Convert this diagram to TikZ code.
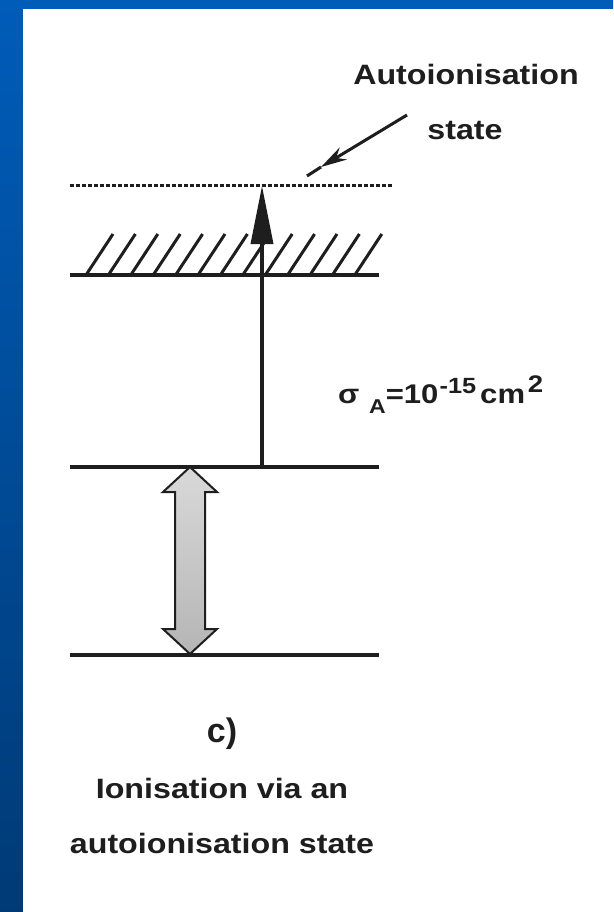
\documentclass[tikz,border=0pt]{standalone}
\usepackage{fontspec}
\setmainfont{Liberation Sans}
\usetikzlibrary{arrows.meta,calc}
\newcommand\xwide[1]{\scalebox{1.15}[1]{#1}}
\definecolor{bluetop}{HTML}{005CB9}
\definecolor{bluebot}{HTML}{003A76}
\definecolor{ink}{HTML}{1E1E1E}
\tikzset{
  level/.style={draw=ink, line width=4pt},
  dotlevel/.style={draw=ink, line width=3pt, dash pattern=on 3.5pt off 2.5pt},
  hatch/.style={draw=ink, line width=3pt},
  lbl/.style={text=ink, inner sep=0pt, font=\fontsize{28}{30}\selectfont\bfseries},
}
\begin{document}
\begin{tikzpicture}[x=1pt,y=-1pt]
\useasboundingbox (0,0) rectangle (613,912);
% background
\shade[top color=bluetop, bottom color=bluebot] (0,0) rectangle (613,912);
\fill[white] (23,9) rectangle (614,913);

% level coordinates
\coordinate (aiL) at (70,186);  \coordinate (aiR) at (393,186);
\coordinate (hL)  at (70,275);  \coordinate (hR)  at (379,275);
\coordinate (mL)  at (70,467);  \coordinate (mR)  at (379,467);
\coordinate (gL)  at (70,655);  \coordinate (gR)  at (379,655);
\coordinate (exc) at (262,467); \coordinate (auto) at (262,186);

% levels
\draw[dotlevel] (aiL) -- (aiR);
\draw[level] (hL) -- (hR);
\draw[level] (mL) -- (mR);
\draw[level] (gL) -- (gR);

% hatching above ionisation limit
\foreach \k in {0,...,12}{
  \draw[hatch] ($(hL)+(16+22.4*\k,0)$) -- ++(27,-41);
}

% excitation arrow
\draw[draw=ink, line width=3.5pt, -{Triangle[length=58pt,width=22pt]}] (exc) -- (auto);

% pointer arrow to autoionisation state
\coordinate (ptS) at (407,115);
\coordinate (ptM) at (321,167);
\coordinate (ptE) at (307,176);
\draw[draw=ink, line width=3pt, -{Stealth[length=26pt,width=14pt]}] (ptS) -- (ptM);
\draw[draw=ink, line width=3pt] (ptM) -- (ptE);

% grey double arrow
\coordinate (dT) at (190,467);
\coordinate (dB) at (190,654);
\path[draw=ink, line width=2pt, top color=gray!30, bottom color=gray!58]
  (dT) -- ++(27,25) -- ++(-12,0) |- ($(dB)+(15,-25)$) -- ++(12,0) -- (dB)
  -- ++(-27,-25) -- ++(12,0) |- ($(dT)+(-15,25)$) -- ++(-12,0) -- cycle;

% labels
\node[lbl, anchor=base] (tAuto) at (466,85) {\xwide{Autoionisation}};
\node[lbl, anchor=base] (tState) at (465,140) {\xwide{state}};
\node[lbl, anchor=base west, font=\fontsize{27}{29}\selectfont\bfseries] (tSigma) at (338,403)
  {\xwide{σ\hspace{8.5pt}\raisebox{-10pt}{\fontsize{20}{20}\selectfont A}=10\hspace{1pt}\raisebox{10pt}{\fontsize{22}{22}\selectfont -15}\hspace{3.5pt}cm\hspace{2.5pt}\raisebox{11pt}{\fontsize{24}{24}\selectfont 2}}};
\node[lbl, anchor=base, font=\fontsize{34}{36}\selectfont\bfseries] (tC) at (222,742) {c)};
\node[lbl, anchor=base] (tCap1) at (222,798) {\xwide{Ionisation via an}};
\node[lbl, anchor=base] (tCap2) at (222,853) {\xwide{autoionisation state}};
\end{tikzpicture}
\end{document}
